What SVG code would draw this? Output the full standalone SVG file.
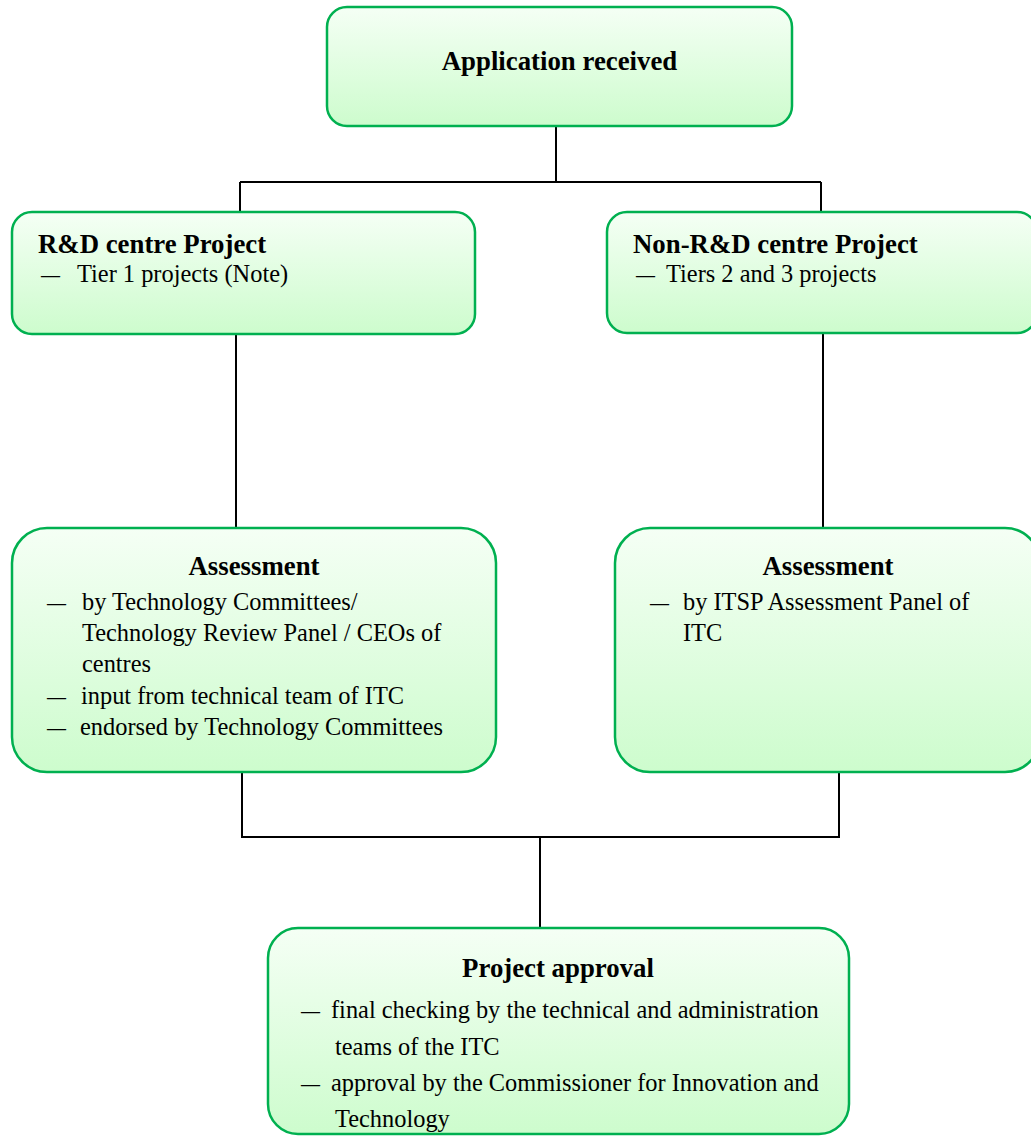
<svg xmlns="http://www.w3.org/2000/svg" width="1031" height="1136" viewBox="0 0 1031 1136">
<defs>
<linearGradient id="g" x1="0" y1="0" x2="0" y2="1">
<stop offset="0" stop-color="#f5fff5"/>
<stop offset="1" stop-color="#cdfccd"/>
</linearGradient>
<style>
.box{fill:url(#g);stroke:#00b050;stroke-width:2.5}
.b{font-family:"Liberation Serif","Times New Roman",serif;font-weight:bold;font-size:26.8px;fill:#000}
.r{font-family:"Liberation Serif","Times New Roman",serif;font-size:24.4px;fill:#000}
.d{font-family:"Liberation Serif","Times New Roman",serif;font-size:19px;font-weight:bold;fill:#000}
.c{fill:none;stroke:#000;stroke-width:2}
</style>
</defs>
<rect width="1031" height="1136" fill="#fff"/>
<g id="connectors">
<path class="c" d="M556 126 V182 M240 182 H821 M240 182 V212 M821 182 V212"/>
<path class="c" d="M236 334 V528"/>
<path class="c" d="M823 333 V528"/>
<path class="c" d="M242 773 V837 H839 V772"/>
<path class="c" d="M540 837 V928"/>
</g>
<g id="application">
<rect class="box" x="327" y="7" width="465" height="119" rx="20"/>
<text class="b" x="559.5" y="70" text-anchor="middle">Application received</text>
</g>
<g id="rd-project">
<rect class="box" x="12" y="212" width="463" height="122" rx="20"/>
<text class="b" x="38" y="253">R&amp;D centre Project</text>
<text class="d" x="41" y="281">—</text>
<text class="r" x="77" y="282">Tier 1 projects (Note)</text>
</g>
<g id="non-rd-project">
<rect class="box" x="607" y="212" width="430" height="121" rx="20"/>
<text class="b" x="633" y="253">Non-R&amp;D centre Project</text>
<text class="d" x="636" y="281">—</text>
<text class="r" x="666" y="282">Tiers 2 and 3 projects</text>
</g>
<g id="assessment-rd">
<rect class="box" x="12" y="528" width="484" height="244" rx="35"/>
<text class="b" x="254" y="575" text-anchor="middle">Assessment</text>
<text class="d" x="47" y="609">—</text>
<text class="r" x="82" y="610">by Technology Committees/</text>
<text class="r" x="82" y="641">Technology Review Panel / CEOs of</text>
<text class="r" x="82" y="672">centres</text>
<text class="d" x="47" y="703">—</text>
<text class="r" x="81" y="704">input from technical team of ITC</text>
<text class="d" x="47" y="734">—</text>
<text class="r" x="80" y="735">endorsed by Technology Committees</text>
</g>
<g id="assessment-non-rd">
<rect class="box" x="615" y="528" width="425" height="244" rx="35"/>
<text class="b" x="828" y="575" text-anchor="middle">Assessment</text>
<text class="d" x="650" y="609">—</text>
<text class="r" x="683" y="610">by ITSP Assessment Panel of</text>
<text class="r" x="683" y="641">ITC</text>
</g>
<g id="approval">
<rect class="box" x="268" y="928" width="581" height="206" rx="30"/>
<text class="b" x="558" y="977" text-anchor="middle">Project approval</text>
<text class="d" x="301" y="1017">—</text>
<text class="r" x="331" y="1018">final checking by the technical and administration</text>
<text class="r" x="335" y="1055">teams of the ITC</text>
<text class="d" x="301" y="1090">—</text>
<text class="r" x="331" y="1091">approval by the Commissioner for Innovation and</text>
<text class="r" x="335" y="1127">Technology</text>
</g>
</svg>
